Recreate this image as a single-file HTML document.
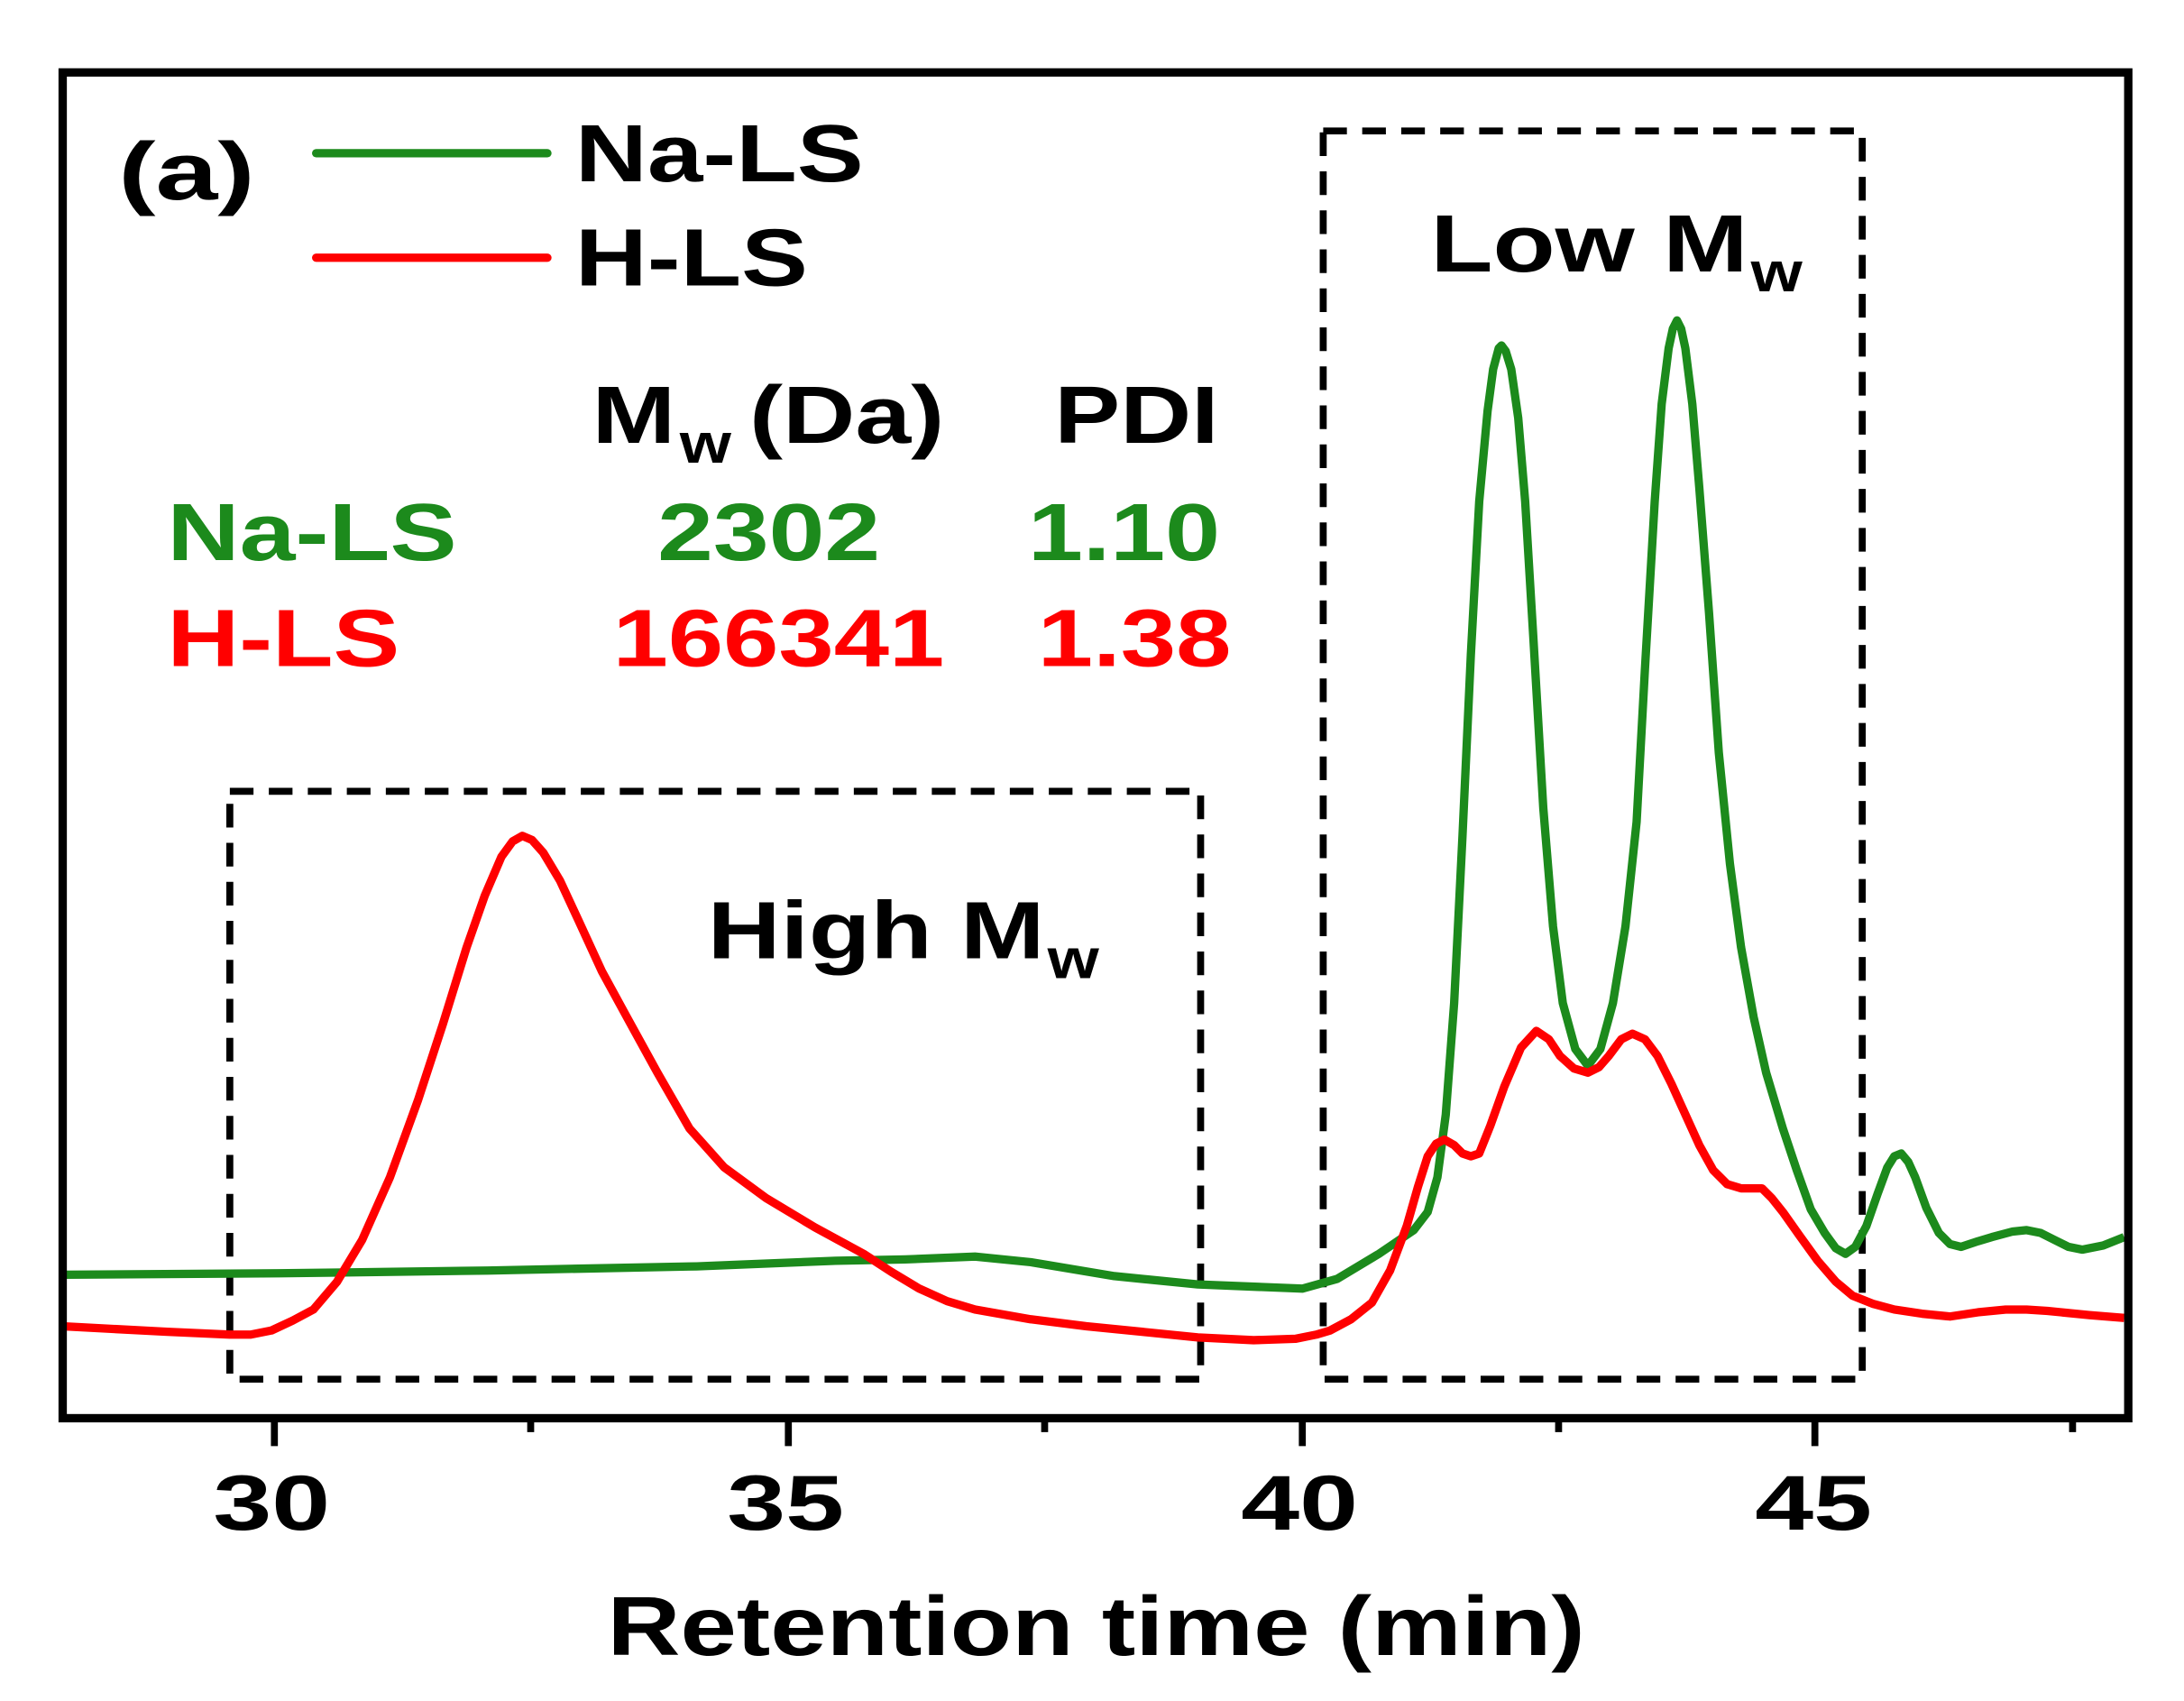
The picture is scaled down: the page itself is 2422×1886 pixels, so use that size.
<!DOCTYPE html>
<html><head><style>html,body{margin:0;padding:0;background:#fff}svg{display:block}text{font-family:"Liberation Sans",Arial,sans-serif;font-weight:bold}</style></head>
<body>
<svg width="2422" height="1886" viewBox="0 0 1568 1221" xmlns="http://www.w3.org/2000/svg">
<rect width="1568" height="1221" fill="#fff"/>
<g stroke="#000" stroke-width="5" fill="none" stroke-dasharray="17,11">
<rect x="165" y="568" width="697" height="422"/>
<rect x="950" y="94" width="387" height="896"/>
</g>
<polyline fill="none" stroke="#1c8a1c" stroke-width="6" stroke-linejoin="round" points="45,915 200,914 350,912 500,909 600,905 650,904 700,902 740,906 800,916 860,922 935,925 960,918 990,900 1015,883 1025,870 1032,845 1038,800 1044,720 1050,600 1056,470 1062,360 1068,295 1072,265 1076,250 1078,248 1081,252 1085,265 1090,300 1095,360 1101,460 1108,580 1115,665 1122,720 1131,753 1140,765 1149,753 1158,720 1167,665 1175,590 1181,480 1188,360 1193,290 1198,250 1201,236 1204,230 1207,236 1210,250 1215,290 1220,350 1227,440 1234,540 1242,620 1250,680 1259,730 1268,770 1280,810 1290,840 1300,868 1310,885 1318,896 1325,900 1332,895 1340,880 1348,857 1355,838 1360,830 1365,828 1370,834 1375,845 1383,867 1392,885 1400,893 1408,895 1420,891 1430,888 1445,884 1455,883 1465,885 1475,890 1485,895 1495,897 1510,894 1525,888"/>
<polyline fill="none" stroke="#ff0000" stroke-width="6" stroke-linejoin="round" points="45,952 120,956 165,958 180,958 195,955 210,948 225,940 242,920 260,890 280,845 300,790 318,735 335,680 348,643 360,615 368,604 375,600 382,603 390,612 402,632 415,660 432,697 450,730 472,770 495,810 520,838 550,860 585,881 620,900 640,913 660,925 680,934 700,940 740,947 780,952 820,956 860,960 900,962 930,961 945,958 955,955 970,947 985,935 998,912 1010,880 1018,852 1025,830 1031,821 1037,818 1044,822 1050,828 1056,830 1062,828 1070,808 1080,780 1092,752 1103,740 1112,746 1120,758 1130,767 1140,770 1148,766 1155,758 1164,746 1172,742 1181,746 1190,758 1200,778 1210,800 1220,822 1230,840 1240,850 1250,853 1258,853 1265,853 1272,860 1280,870 1292,887 1305,905 1318,920 1330,930 1345,936 1360,940 1380,943 1400,945 1420,942 1440,940 1455,940 1470,941 1500,944 1525,946"/>
<rect x="45" y="52" width="1483" height="966" fill="none" stroke="#000" stroke-width="6"/>
<g stroke="#000" stroke-width="5">
<line x1="197" y1="1018" x2="197" y2="1038"/><line x1="566" y1="1018" x2="566" y2="1038"/><line x1="935" y1="1018" x2="935" y2="1038"/><line x1="1303" y1="1018" x2="1303" y2="1038"/>
<line x1="381" y1="1018" x2="381" y2="1028"/><line x1="750" y1="1018" x2="750" y2="1028"/><line x1="1119" y1="1018" x2="1119" y2="1028"/><line x1="1488" y1="1018" x2="1488" y2="1028"/>
</g>
<g font-size="56">
<text x="153" y="1098" textLength="84" lengthAdjust="spacingAndGlyphs">30</text>
<text x="522" y="1098" textLength="84" lengthAdjust="spacingAndGlyphs">35</text>
<text x="891" y="1098" textLength="84" lengthAdjust="spacingAndGlyphs">40</text>
<text x="1260" y="1098" textLength="84" lengthAdjust="spacingAndGlyphs">45</text>
</g>
<text x="436" y="1188" font-size="60" textLength="702" lengthAdjust="spacingAndGlyphs">Retention time (min)</text>
<line x1="227" y1="110" x2="393" y2="110" stroke="#1c8a1c" stroke-width="6" stroke-linecap="round"/>
<line x1="227" y1="185" x2="393" y2="185" stroke="#ff0000" stroke-width="6" stroke-linecap="round"/>
<text x="85" y="143" font-size="58" textLength="98" lengthAdjust="spacingAndGlyphs">(a)</text>
<text x="413" y="130" font-size="58" textLength="207" lengthAdjust="spacingAndGlyphs">Na-LS</text>
<text x="413" y="205" font-size="58" textLength="167" lengthAdjust="spacingAndGlyphs">H-LS</text>
<text x="425" y="318" font-size="58" textLength="60" lengthAdjust="spacingAndGlyphs">M</text>
<text x="488" y="332" font-size="40" textLength="37" lengthAdjust="spacingAndGlyphs">w</text>
<text x="538" y="318" font-size="58" textLength="140" lengthAdjust="spacingAndGlyphs">(Da)</text>
<text x="757" y="318" font-size="58" textLength="118" lengthAdjust="spacingAndGlyphs">PDI</text>
<g fill="#1c8a1c" font-size="58">
<text x="120" y="402" textLength="208" lengthAdjust="spacingAndGlyphs">Na-LS</text>
<text x="472" y="402" textLength="160" lengthAdjust="spacingAndGlyphs">2302</text>
<text x="738" y="402" textLength="138" lengthAdjust="spacingAndGlyphs">1.10</text>
</g>
<g fill="#ff0000" font-size="58">
<text x="120" y="478" textLength="167" lengthAdjust="spacingAndGlyphs">H-LS</text>
<text x="440" y="478" textLength="238" lengthAdjust="spacingAndGlyphs">166341</text>
<text x="745" y="478" textLength="139" lengthAdjust="spacingAndGlyphs">1.38</text>
</g>
<text x="508" y="688" font-size="58" textLength="242" lengthAdjust="spacingAndGlyphs">High M</text>
<text x="752" y="702" font-size="40" textLength="37" lengthAdjust="spacingAndGlyphs">w</text>
<text x="1027" y="195" font-size="58" textLength="228" lengthAdjust="spacingAndGlyphs">Low M</text>
<text x="1257" y="209" font-size="40" textLength="37" lengthAdjust="spacingAndGlyphs">w</text>
</svg>
</body></html>
